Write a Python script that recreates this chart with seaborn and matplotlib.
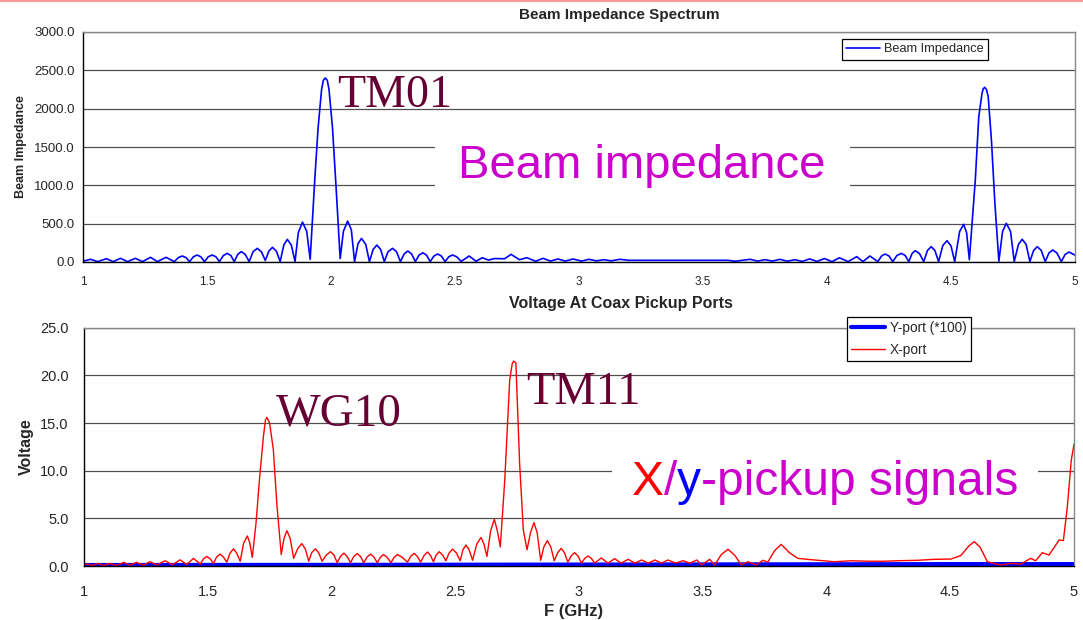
import matplotlib
matplotlib.use("Agg")
import matplotlib.pyplot as plt
import seaborn as sns
import pandas as pd
from matplotlib.patches import Rectangle
from matplotlib.lines import Line2D

# ---------------- data (frequency GHz, value) ----------------
beam_impedance = [
    (1.00, 10), (1.03, 35), (1.06, 5), (1.094, 43), (1.122, 5), (1.151, 48), (1.18, 5),
    (1.211, 48), (1.24, 5), (1.272, 61), (1.30, 5), (1.335, 61), (1.368, 5),
    (1.385, 58), (1.40, 78), (1.415, 58), (1.43, 5), (1.445, 68), (1.46, 91), (1.475, 68),
    (1.49, 5), (1.505, 68), (1.521, 91), (1.536, 68), (1.55, 5), (1.566, 85), (1.582, 113),
    (1.596, 85), (1.61, 5), (1.624, 100), (1.638, 135), (1.654, 100), (1.67, 5),
    (1.686, 135), (1.703, 178), (1.72, 130), (1.735, 20), (1.75, 145), (1.764, 191),
    (1.78, 140), (1.795, 5), (1.81, 225), (1.824, 295), (1.84, 220), (1.855, 5),
    (1.868, 380), (1.885, 521), (1.902, 400), (1.916, 35), (1.935, 1100), (1.948, 1750),
    (1.962, 2250), (1.969, 2370), (1.977, 2400), (1.985, 2370), (1.992, 2250),
    (2.006, 1750), (2.02, 1000), (2.037, 45), (2.05, 400), (2.067, 534), (2.082, 420),
    (2.095, 5), (2.109, 240), (2.123, 308), (2.14, 230), (2.155, 5), (2.17, 165),
    (2.185, 221), (2.2, 165), (2.215, 5), (2.23, 135), (2.248, 178), (2.264, 135),
    (2.28, 5), (2.295, 105), (2.31, 143), (2.325, 105), (2.34, 5), (2.355, 90), (2.37, 120),
    (2.385, 90), (2.40, 5), (2.415, 78), (2.43, 104), (2.445, 78), (2.46, 5), (2.475, 68),
    (2.49, 91), (2.507, 68), (2.525, 8), (2.557, 78), (2.585, 10), (2.61, 56), (2.635, 25),
    (2.66, 45), (2.70, 42), (2.726, 100), (2.76, 30), (2.79, 56), (2.825, 10), (2.855, 48),
    (2.885, 12), (2.915, 39), (2.945, 12), (2.976, 39), (3.01, 12), (3.04, 35), (3.07, 15),
    (3.10, 30), (3.13, 15), (3.165, 35), (3.20, 22), (3.60, 22), (3.63, 10), (3.69, 35),
    (3.72, 12), (3.75, 30), (3.78, 12), (3.81, 35), (3.84, 10), (3.87, 30), (3.90, 8),
    (3.93, 40), (3.96, 8), (3.99, 45), (4.02, 5), (4.05, 55), (4.085, 5), (4.12, 70),
    (4.145, 5), (4.173, 78), (4.205, 5), (4.22, 78), (4.234, 104), (4.25, 78), (4.265, 5),
    (4.282, 85), (4.30, 113), (4.315, 85), (4.33, 5), (4.343, 110), (4.356, 148),
    (4.373, 110), (4.39, 5), (4.405, 150), (4.42, 200), (4.435, 150), (4.45, 5),
    (4.467, 215), (4.484, 278), (4.50, 210), (4.515, 5), (4.535, 400), (4.551, 491),
    (4.563, 380), (4.574, 30), (4.598, 1070), (4.612, 1896), (4.625, 2200), (4.63, 2260),
    (4.636, 2278), (4.643, 2250), (4.65, 2157), (4.663, 1591), (4.677, 765), (4.693, 10),
    (4.708, 400), (4.723, 504), (4.74, 400), (4.755, 5), (4.772, 230), (4.787, 296),
    (4.803, 230), (4.818, 5), (4.833, 150), (4.848, 200), (4.864, 150), (4.88, 5),
    (4.895, 118), (4.91, 157), (4.927, 118), (4.945, 5), (4.96, 98), (4.976, 130),
    (5.00, 90),
]

x_port = [
    (1.00, 0.15), (1.016, 0.2), (1.035, 0.05), (1.057, 0.28), (1.08, 0.05), (1.104, 0.28),
    (1.13, 0.05), (1.161, 0.38), (1.185, 0.08), (1.212, 0.38), (1.24, 0.08), (1.266, 0.45),
    (1.295, 0.1), (1.327, 0.55), (1.358, 0.12), (1.388, 0.65), (1.415, 0.15), (1.442, 0.8),
    (1.47, 0.2), (1.483, 0.75), (1.496, 1.0), (1.51, 0.75), (1.523, 0.25), (1.536, 0.95),
    (1.55, 1.25), (1.563, 0.95), (1.577, 0.4), (1.59, 1.35), (1.604, 1.8), (1.617, 1.35),
    (1.631, 0.5), (1.645, 2.4), (1.66, 3.15), (1.67, 2.4), (1.68, 0.9), (1.695, 4.5),
    (1.71, 9.4), (1.725, 13.6), (1.733, 15.3), (1.739, 15.6), (1.75, 15.0), (1.765, 12.2),
    (1.78, 6.2), (1.797, 1.2), (1.808, 2.9), (1.82, 3.7), (1.833, 2.9), (1.847, 0.8),
    (1.863, 1.8), (1.88, 2.35), (1.894, 1.8), (1.908, 0.5), (1.92, 1.4), (1.935, 1.8),
    (1.948, 1.4), (1.962, 0.5), (1.979, 1.15), (1.996, 1.5), (2.01, 1.15), (2.023, 0.35),
    (2.036, 1.0), (2.05, 1.35), (2.063, 1.0), (2.077, 0.35), (2.09, 1.0), (2.104, 1.3),
    (2.117, 1.0), (2.13, 0.35), (2.144, 0.95), (2.158, 1.25), (2.171, 0.95), (2.185, 0.35),
    (2.197, 0.9), (2.21, 1.2), (2.225, 0.9), (2.24, 0.35), (2.253, 0.9), (2.266, 1.2),
    (2.286, 0.9), (2.307, 0.4), (2.32, 1.0), (2.334, 1.33), (2.347, 1.0), (2.36, 0.4),
    (2.374, 1.1), (2.388, 1.47), (2.4, 1.1), (2.412, 0.45), (2.423, 1.15), (2.435, 1.5),
    (2.449, 1.15), (2.462, 0.55), (2.475, 1.35), (2.489, 1.78), (2.505, 1.35), (2.52, 0.55),
    (2.531, 1.7), (2.543, 2.2), (2.556, 1.7), (2.57, 0.6), (2.587, 2.3), (2.604, 3.0),
    (2.616, 2.3), (2.628, 1.0), (2.643, 3.7), (2.658, 4.9), (2.67, 3.7), (2.682, 2.0),
    (2.70, 9.0), (2.72, 19.5), (2.73, 21.2), (2.736, 21.5), (2.745, 21.3), (2.76, 10.8),
    (2.775, 3.8), (2.79, 1.7), (2.804, 3.5), (2.818, 4.55), (2.831, 3.5), (2.845, 0.6),
    (2.858, 2.0), (2.872, 2.66), (2.886, 2.0), (2.90, 0.55), (2.914, 1.4), (2.928, 1.85),
    (2.941, 1.4), (2.955, 0.4), (2.968, 1.05), (2.982, 1.4), (2.996, 1.05), (3.01, 0.3),
    (3.023, 0.8), (3.037, 1.05), (3.05, 0.8), (3.063, 0.3), (3.09, 0.84), (3.117, 0.3),
    (3.144, 0.77), (3.17, 0.3), (3.199, 0.7), (3.226, 0.3), (3.253, 0.63), (3.28, 0.3),
    (3.307, 0.63), (3.333, 0.3), (3.36, 0.63), (3.39, 0.3), (3.42, 0.56), (3.448, 0.3),
    (3.476, 0.63), (3.495, 0.1), (3.528, 0.7), (3.548, 0.1), (3.575, 1.2), (3.602, 1.75),
    (3.63, 1.1), (3.656, 0.1), (3.683, 0.45), (3.716, 0.1), (3.743, 0.6), (3.763, 0.4),
    (3.79, 1.6), (3.817, 2.27), (3.85, 1.4), (3.884, 0.8), (3.952, 0.63), (4.032, 0.45),
    (4.1, 0.55), (4.167, 0.5), (4.23, 0.5), (4.301, 0.56), (4.37, 0.6), (4.435, 0.7),
    (4.503, 0.73), (4.543, 1.1), (4.575, 2.1), (4.597, 2.55), (4.62, 2.0), (4.65, 0.45),
    (4.704, 0.1), (4.745, 0.28), (4.785, 0.2), (4.825, 0.8), (4.845, 0.55), (4.872, 1.4),
    (4.899, 1.15), (4.94, 2.73), (4.957, 2.66), (4.973, 6.2), (4.989, 11.1), (5.00, 12.8),
]

y_port = [(1.0, 0.1), (2.0, 0.12), (3.0, 0.15), (4.0, 0.18), (4.5, 0.2), (5.0, 0.2)]

xticks = [1, 1.5, 2, 2.5, 3, 3.5, 4, 4.5, 5]
xticklabels = ["1", "1.5", "2", "2.5", "3", "3.5", "4", "4.5", "5"]
top_yticks = [0, 500, 1000, 1500, 2000, 2500, 3000]
bot_yticks = [0, 5, 10, 15, 20, 25]

# ---------------- style ----------------
sns.set_style("white")
plt.rcParams["font.family"] = ["Liberation Sans", "DejaVu Sans"]

W, H = 1083, 620
fig = plt.figure(figsize=(W / 100, H / 100), dpi=100)
fig.patch.set_facecolor("white")


def fx(px):
    return px / W


def fy(py):
    return 1 - py / H


ax1 = fig.add_axes([fx(83), fy(262), fx(1075) - fx(83), fy(32) - fy(262)])
ax2 = fig.add_axes([fx(84), fy(566), fx(1074) - fx(84), fy(327.7) - fy(566)])

df_top = pd.DataFrame(beam_impedance, columns=["F", "Z"])
df_y = pd.DataFrame(y_port, columns=["F", "V"])
df_x = pd.DataFrame(x_port, columns=["F", "V"])

sns.lineplot(data=df_top, x="F", y="Z", ax=ax1, color="#0000FF", lw=1.2,
             label="Beam Impedance", estimator=None, sort=False, zorder=2)
sns.lineplot(data=df_y, x="F", y="V", ax=ax2, color="#0000FF", lw=3.0,
             label="Y-port (*100)", estimator=None, sort=False, zorder=2)
sns.lineplot(data=df_x, x="F", y="V", ax=ax2, color="#FF0000", lw=1.0,
             label="X-port", estimator=None, sort=False, zorder=2.1)

for ax, yt, ylim in [(ax1, top_yticks, (0, 3000)), (ax2, bot_yticks, (0, 25))]:
    ax.set_xlim(1, 5)
    ax.set_ylim(*ylim)
    ax.set_xticks(xticks)
    ax.set_yticks(yt)
    ax.set_yticklabels(["{:.1f}".format(v) for v in yt])
    ax.set_axisbelow(True)
    ax.yaxis.grid(True, color="#505050", lw=0.9)
    ax.xaxis.grid(False)
    ax.set_facecolor("white")
    for s in ["left", "bottom"]:
        ax.spines[s].set_color("black")
        ax.spines[s].set_linewidth(1.0)
    for s in ["top", "right"]:
        ax.spines[s].set_color("#888888")
        ax.spines[s].set_linewidth(1.0)
    ax.tick_params(axis="both", direction="out", length=4, width=1, color="black")
    ax.set_xlabel("")
    ax.set_ylabel("")

ax1.set_xticklabels(xticklabels, fontsize=8.5)
ax1.tick_params(axis="x", pad=6)
ax1.tick_params(axis="y", labelsize=9.5, pad=2)
ax2.set_xticklabels(xticklabels, fontsize=10.5)
ax2.tick_params(axis="x", pad=10)
ax2.tick_params(axis="y", labelsize=10.5, length=5, pad=6)

# titles / labels
fig.text(fx(619), fy(18.5), "Beam Impedance Spectrum", fontsize=11, fontweight="bold",
         ha="center", va="baseline")
fig.text(fx(621), fy(308), "Voltage At Coax Pickup Ports", fontsize=11.5, fontweight="bold",
         ha="center", va="baseline")
fig.text(fx(573.5), fy(616), "F (GHz)", fontsize=12, fontweight="bold",
         ha="center", va="baseline")
fig.text(fx(21), fy(147), "Beam Impedance", fontsize=9, fontweight="bold",
         rotation=90, ha="center", va="center")
fig.text(fx(26), fy(447), "Voltage", fontsize=11.5, fontweight="bold",
         rotation=90, ha="center", va="center")

# legends
leg1 = ax1.legend(loc="upper left", bbox_to_anchor=(fx(842), fy(39)),
                  bbox_transform=fig.transFigure, fancybox=False, edgecolor="black",
                  framealpha=1, fontsize=9.2, handlelength=2.6, handletextpad=0.35,
                  borderpad=0.35, borderaxespad=0)
leg1.get_frame().set_linewidth(0.9)
leg2 = ax2.legend(loc="upper left", bbox_to_anchor=(fx(847), fy(317)),
                  bbox_transform=fig.transFigure, fancybox=False, edgecolor="black",
                  framealpha=1, fontsize=9.8, handlelength=2.5, handletextpad=0.35,
                  borderpad=0.3, labelspacing=0.55, borderaxespad=0)
leg2.get_frame().set_linewidth(0.9)

# white boxes behind the big captions
ax1.add_patch(Rectangle((fx(435), fy(205)), fx(850) - fx(435), fy(125) - fy(205),
                        transform=fig.transFigure, facecolor="white", edgecolor="none",
                        zorder=1, clip_on=False))
ax2.add_patch(Rectangle((fx(612), fy(512)), fx(1038) - fx(612), fy(442) - fy(512),
                        transform=fig.transFigure, facecolor="white", edgecolor="none",
                        zorder=1, clip_on=False))
ax1.set_xlim(1, 5)
ax1.set_ylim(0, 3000)
ax2.set_xlim(1, 5)
ax2.set_ylim(0, 25)

maroon = "#660033"
magenta = "#CC00CC"
serif = ["Liberation Serif", "DejaVu Serif"]
fig.text(fx(337), fy(107), "TM01", fontsize=33, color=maroon, family=serif,
         ha="left", va="baseline", zorder=5)
fig.text(fx(276), fy(425), "WG10", fontsize=34, color=maroon, family=serif,
         ha="left", va="baseline", zorder=5)
fig.text(fx(526), fy(404), "TM11", fontsize=33.5, color=maroon, family=serif,
         ha="left", va="baseline", zorder=5)
fig.text(fx(458), fy(178), "Beam impedance", fontsize=34, color=magenta,
         ha="left", va="baseline", zorder=5)

fig.canvas.draw()
renderer = fig.canvas.get_renderer()
xpos = 632
for piece, col in [("X", "#FF0000"), ("/", magenta), ("y", "#0000FF"),
                   ("-pickup signals", magenta)]:
    t = fig.text(fx(xpos), fy(495), piece, fontsize=34.5, color=col,
                 ha="left", va="baseline", zorder=5)
    bb = t.get_window_extent(renderer)
    xpos += bb.width

# pink slide border at the top
fig.add_artist(Line2D([0, 1], [fy(0.8), fy(0.8)], transform=fig.transFigure,
                      color="#FF9999", lw=1.5))

fig.savefig("out.png", dpi=100, facecolor="white")
